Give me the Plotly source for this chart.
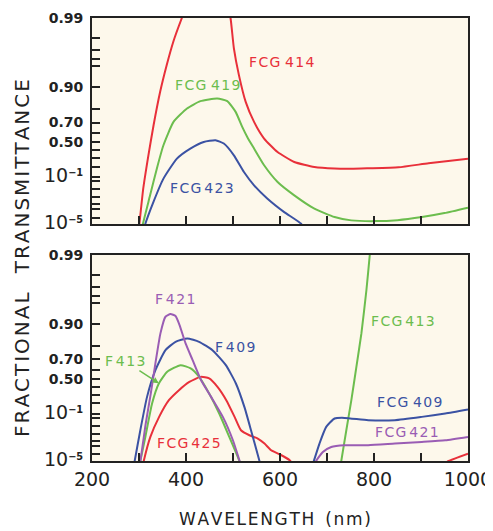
import numpy as np
import plotly.graph_objects as go
from plotly.subplots import make_subplots

# ---------- axis scale: double-log transmittance,  s = -log10(-ln T) ----------
def s(T):
    T = np.asarray(T, dtype=float)
    return -np.log10(-np.log(T))

major_T = [1e-5, 1e-1, 0.50, 0.70, 0.90, 0.99]
major_labels = ['<span style="font-size:19px;font-weight:normal">10</span><sup>−5</sup>',
                '<span style="font-size:19px;font-weight:normal">10</span><sup>−1</sup>',
                '0.50', '0.70', '0.90', '0.99']
minor_T = [1e-4, 1e-3, 3e-3, 1e-2, 0.03, 0.07, 0.2, 0.3, 0.4, 0.6, 0.8,
           0.95, 0.96, 0.97, 0.98]

x_ticks = [200, 300, 400, 500, 600, 700, 800, 900, 1000]
x_labels = ['200', '', '400', '', '600', '', '800', '', '1000']

# ---------- data (wavelength nm, position on the chart's transmittance scale s) ----------
# top panel
fcg414_x = [296, 300.6, 309, 320, 331, 345, 359, 373, 391, 400, None,
            488, 494.8, 501.9, 512.6, 527, 544.8, 566.2, 594.8, 630.4, 673.2, 716, 752, 788, 852, 916, 1000]
fcg414_y = [-1.3, -1.067, -0.532, -0.038, 0.408, 0.903, 1.30, 1.646, 1.994, 2.15, None,
            2.2, 1.994, 1.548, 1.151, 0.754, 0.457, 0.211, 0.011, -0.137, -0.212, -0.235, -0.238, -0.231, -0.216, -0.156, -0.088]

fcg419_x = [303, 307.9, 323.6, 337.9, 352, 373.4, 402.1, 430.6, 466.4, 487.8, 505.6, 519.9, 530.6,
            544.8, 566.2, 594.9, 630.4, 673.2, 716.1, 751.8, 801, 850, 902, 950, 1000]
fcg419_y = [-1.25, -1.067, -0.632, -0.236, 0.111, 0.457, 0.656, 0.765, 0.805, 0.765, 0.606, 0.380, 0.230,
            0.062, -0.186, -0.434, -0.632, -0.829, -0.954, -1.003, -1.014, -1.00, -0.954, -0.895, -0.815]

fcg423_x = [308, 312.9, 330.6, 352, 380.7, 409.2, 437.7, 462.7, 480.5, 501.9, 523.3, 544.8, 573.4, 609, 644.8, 652]
fcg423_y = [-1.2, -1.067, -0.732, -0.384, -0.087, 0.062, 0.160, 0.185, 0.136, -0.038, -0.286, -0.483, -0.681, -0.880, -1.052, -1.15]

# bottom panel
f421_x = [298, 302.8, 314.3, 325.1, 334.9, 345.6, 356.3, 367, 377.7, 386.3, 399.1, 414.1, 432.1,
          453.5, 478.4, 499.8, 514.1, 518]
f421_y = [-1.2, -1.061, -0.505, -0.058, 0.388, 0.834, 1.081, 1.121, 1.091, 0.957, 0.685, 0.437, 0.139,
          -0.109, -0.406, -0.753, -1.061, -1.15]
fcg421_x = [672, 676.9, 691.2, 709, 737.5, 787.6, 844.5, 901.7, 951.6, 1000]
fcg421_y = [-1.15, -1.061, -0.927, -0.853, -0.827, -0.827, -0.802, -0.778, -0.753, -0.704]

f409_x = [287, 290.8, 302.8, 317.1, 334.9, 356.3, 377.7, 402.8, 427.8, 456.3, 484.8, 506.2,
          524.2, 538.3, 556.3, 560]
f409_y = [-1.2, -1.061, -0.604, -0.109, 0.288, 0.585, 0.709, 0.759, 0.709, 0.585, 0.362, 0.090,
          -0.258, -0.604, -1.061, -1.15]
fcg409_x = [668, 672, 684, 698.3, 716.1, 737.5, 787.6, 844.5, 901.7, 951.6, 1000]
fcg409_y = [-1.15, -1.061, -0.802, -0.555, -0.430, -0.421, -0.455, -0.455, -0.406, -0.356, -0.296]

f413_x = [299, 302.8, 313.5, 327.8, 342.2, 360, 388.4, 409.9, 427.8, 449.3, 470.7, 492.1, 513.5, 517]
f413_y = [-1.2, -1.061, -0.704, -0.207, 0.090, 0.263, 0.362, 0.313, 0.188, -0.059, -0.356, -0.704, -1.061, -1.15]
fcg413_x = [728, 730.4, 741.1, 751.8, 762.5, 773.2, 783.9, 791, 793]
fcg413_y = [-1.2, -1.061, -0.604, -0.158, 0.337, 0.834, 1.478, 1.998, 2.15]

fcg425_x = [306, 310.1, 324.2, 342.8, 363.6, 385, 407.1, 431.3, 449.3, 467, 485.7, 503.4, 516.9,
            534.9, 552.7, 567, 581.2, 599.1, 620.6, 628, None, 945, 958.9, 1000]
fcg425_y = [-1.2, -1.061, -0.704, -0.406, -0.158, -0.009, 0.114, 0.188, 0.165, 0.040, -0.158, -0.406, -0.604,
            -0.679, -0.728, -0.802, -0.902, -0.961, -1.050, -1.12, None, -1.12, -1.061, -0.952]

RED = "#e8303a"
GREEN = "#6cbd4e"
BLUE = "#3b52a3"
PURPLE = "#9a5db4"
BG = "#fdf8eb"
INK = "#222222"
FONT = "DejaVu Sans, sans-serif"
HS = "\u200a"


def spaced(t, ch=HS):
    return ch.join(t)


fig = make_subplots(rows=2, cols=1, shared_xaxes=False, vertical_spacing=0.07)


def add(x, y, color, row):
    fig.add_trace(go.Scatter(x=x, y=y, mode="lines",
                             line=dict(color=color, width=2, shape="spline", smoothing=0.5),
                             connectgaps=False, showlegend=False, hoverinfo="skip"),
                  row=row, col=1)


add(fcg414_x, fcg414_y, RED, 1)
add(fcg419_x, fcg419_y, GREEN, 1)
add(fcg423_x, fcg423_y, BLUE, 1)

add(fcg425_x, fcg425_y, RED, 2)
add(f413_x, f413_y, GREEN, 2)
add(fcg413_x, fcg413_y, GREEN, 2)
add(f409_x, f409_y, BLUE, 2)
add(fcg409_x, fcg409_y, BLUE, 2)
add(f421_x, f421_y, PURPLE, 2)
add(fcg421_x, fcg421_y, PURPLE, 2)

ytickvals = list(s(major_T)) + list(s(minor_T))
yticktext = major_labels + [''] * len(minor_T)
yrange = [float(s(1e-5)), float(s(0.99))]

for r, dom in ((1, [0.5343, 1.0]), (2, [0.0, 0.465])):
    fig.update_yaxes(row=r, col=1, range=yrange, domain=dom, tickmode="array",
                     tickvals=ytickvals, ticktext=yticktext, ticks="inside", ticklen=8,
                     tickwidth=1.6, tickcolor=INK, showline=True, linewidth=2, linecolor=INK,
                     mirror=True, showgrid=False, zeroline=False, automargin=False,
                     tickfont=dict(family=FONT, size=14, color=INK, weight="bold"),
                     ticklabelstandoff=4)
    fig.update_xaxes(row=r, col=1, range=[200, 1000], tickmode="array", tickvals=x_ticks,
                     ticktext=x_labels if r == 2 else [''] * len(x_ticks),
                     showticklabels=(r == 2), automargin=False, ticklabeloverflow="allow",
                     ticks="inside", ticklen=8, tickwidth=1.6, tickcolor=INK,
                     showline=True, linewidth=2, linecolor=INK, mirror=True,
                     showgrid=False, zeroline=False,
                     tickfont=dict(family=FONT, size=19, color=INK),
                     ticklabelstandoff=0)


def label(text, x, y, color, ref, size=14):
    fig.add_annotation(x=x, y=y, xref="x" + ref, yref="y" + ref, text=text, showarrow=False,
                       font=dict(family=FONT, size=size, color=color))


# top-panel labels
label(spaced("FCG") + " " + spaced("414"), 605, 1.35, RED, "")
label(spaced("FCG") + " " + spaced("419"), 446, 1.00, GREEN, "")
label(spaced("FCG") + "\u2009" + spaced("423"), 434, -0.52, BLUE, "")
# bottom-panel labels
label("F\u2009" + spaced("421"), 376, 1.35, PURPLE, "2")
label("F\u2009" + spaced("409"), 505, 0.626, BLUE, "2")
label(spaced("FCG") + "\u2009" + spaced("425"), 406, -0.79, RED, "2")
label(spaced("FCG") + "\u2009" + spaced("413"), 862, 1.02, GREEN, "2")
label(spaced("FCG") + " " + spaced("409"), 875, -0.19, BLUE, "2")
label(spaced("FCG") + "\u2009" + spaced("421"), 870, -0.63, PURPLE, "2")
fig.add_annotation(x=342, y=0.095, xref="x2", yref="y2", text="F\u2009" + spaced("413"), showarrow=True,
                   ax=-34, ay=-22, arrowhead=2, arrowsize=0.8, arrowwidth=1.5,
                   arrowcolor=GREEN, standoff=0,
                   font=dict(family=FONT, size=14, color=GREEN))

# The page body adds an 8 px offset, so the figure frame is laid out 8 px up/left.
OFF = 8
W, H = 493, 531 - OFF
L, T = 92 - OFF, 18 - OFF
R = W - (468 - OFF)
B = H - (461 - OFF)
PW, PH = W - L - R, H - T - B


def px(xs):
    return (xs - OFF - L) / PW


def py(ys):
    return (H - B - (ys - OFF)) / PH


fig.add_annotation(x=px(22), y=py(258), xref="paper", yref="paper",
                   text=spaced("FRACTIONAL") + "&nbsp;&nbsp;&nbsp;" + spaced("TRANSMITTANCE"),
                   showarrow=False, textangle=-90, xanchor="center", yanchor="middle",
                   font=dict(family=FONT, size=20, color=INK))
fig.add_annotation(x=px(275), y=py(519), xref="paper", yref="paper", xanchor="center", yanchor="middle",
                   text=spaced("WAVELENGTH") + "&nbsp;&nbsp;" + spaced("(nm)"),
                   showarrow=False, font=dict(family=FONT, size=17, color=INK))

fig.update_layout(width=W, height=H, margin=dict(l=L, r=R, t=T, b=B, autoexpand=False),
                  paper_bgcolor="white", plot_bgcolor=BG, showlegend=False)

fig.write_html("out.html")
